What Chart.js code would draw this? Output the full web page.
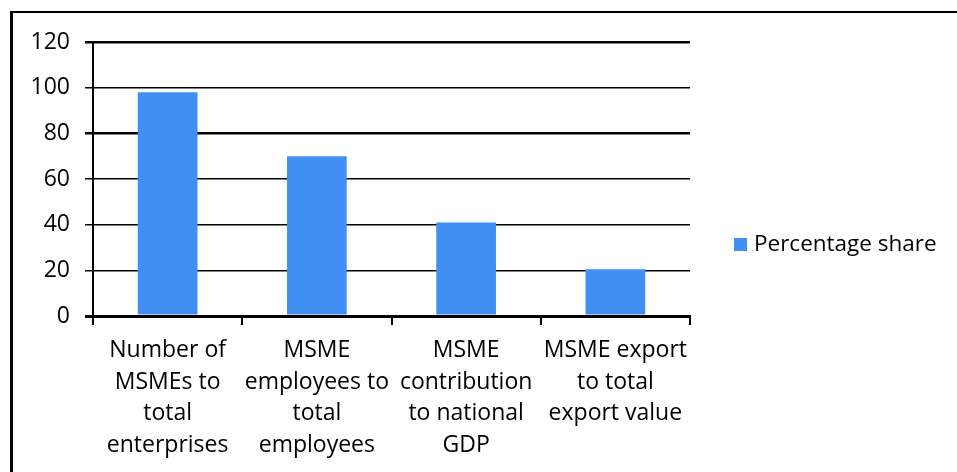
<!DOCTYPE html>
<html>
<head>
<meta charset="utf-8">
<script src="https://cdn.jsdelivr.net/npm/chart.js@4/dist/chart.umd.min.js"></script>
<style>
    html, body { margin: 0; padding: 0; background: #fff; }
    #marco {
        position: absolute; left: 10px; top: 11px; width: 947px; height: 461px;
        border-top: 2px solid #000; border-left: 3px solid #000; box-sizing: border-box;
        pointer-events: none;
    }
    #grafico { position: absolute; left: 0; top: 0; }
</style>
</head>
<body>
<canvas id="grafico" width="957" height="472"></canvas>
<div id="marco"></div>
<script>
// Participacion de las MSME en la economia (%)
const categorias = [
    ["Number of", "MSMEs to", "total", "enterprises"],
    ["MSME", "employees to", "total", "employees"],
    ["MSME", "contribution", "to national", "GDP"],
    ["MSME export", "to total", "export value"]
];
const porcentajes = [98, 70, 41, 20.5];
const marcasY = [0, 20, 40, 60, 80, 100, 120];
const serie = "Percentage share";

const fuente = "'Open Sans', 'Noto Sans', sans-serif";
const azul = "#428ff4";

// leyenda a la derecha del area del grafico
const leyenda = {
    id: "leyenda",
    afterDraw(chart) {
        const ctx = chart.ctx;
        const y = 244;
        ctx.save();
        ctx.fillStyle = azul;
        ctx.fillRect(734, y - 6, 13, 13);
        ctx.fillStyle = "#000";
        ctx.font = "22.5px " + fuente;
        ctx.textBaseline = "middle";
        ctx.fillText(chart.data.datasets[0].label, 754, y + 1);
        ctx.restore();
    }
};

const ctx = document.getElementById("grafico").getContext("2d");
new Chart(ctx, {
    type: "bar",
    data: {
        labels: categorias,
        datasets: [{
            label: serie,
            data: porcentajes,
            backgroundColor: azul,
            borderWidth: 0,
            categoryPercentage: 1,
            barPercentage: 0.4
        }]
    },
    options: {
        responsive: false,
        animation: false,
        layout: { padding: { left: 0, top: 42, right: 267, bottom: 0 } },
        plugins: {
            legend: { display: false },
            tooltip: { enabled: false }
        },
        scales: {
            x: {
                afterFit: (s) => { s.height = 156; },
                border: { color: "#000", width: 3 },
                grid: { drawOnChartArea: false, drawTicks: true, tickLength: 9, color: "#000", lineWidth: 2 },
                ticks: {
                    color: "#000", padding: 9, maxRotation: 0, autoSkip: false,
                    font: { family: fuente, size: 23, lineHeight: 1.39 }
                }
            },
            y: {
                min: 0, max: 120,
                afterFit: (s) => { s.width = 93; },
                afterBuildTicks: (s) => { s.ticks = marcasY.map(v => ({ value: v })); },
                border: { color: "#000", width: 2 },
                grid: {
                    color: "#000",
                    tickLength: 8,
                    lineWidth: (c) => {
                        const v = c.tick ? c.tick.value : 0;
                        if (v === 0) return 3;
                        return (v === 80 || v === 120) ? 2.5 : 1.5;
                    }
                },
                ticks: {
                    color: "#000", padding: 15,
                    font: { family: fuente, size: 23 }
                }
            }
        }
    },
    plugins: [leyenda]
});
</script>
</body>
</html>
